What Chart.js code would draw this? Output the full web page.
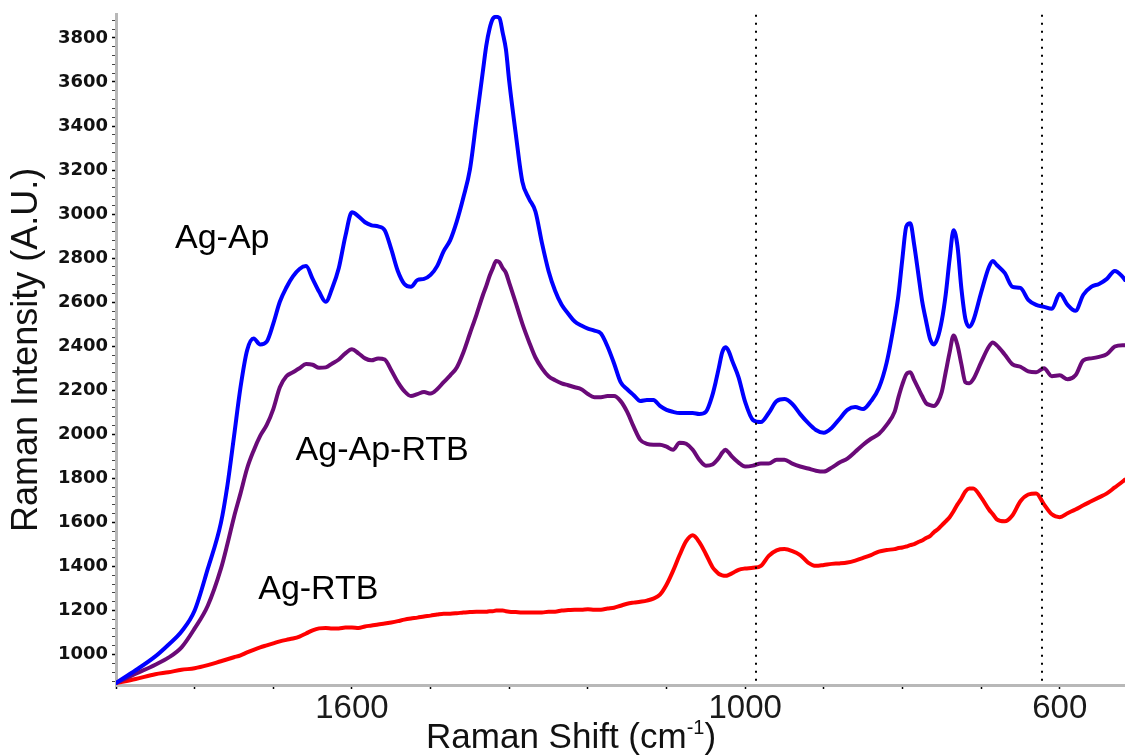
<!DOCTYPE html>
<html>
<head>
<meta charset="utf-8">
<script src="https://cdn.jsdelivr.net/npm/chart.js@4/dist/chart.umd.min.js"></script>
<style>
  html, body { margin: 0; padding: 0; background: #fff; }
  canvas { display: block; }
</style>
</head>
<body>
<canvas id="ramanChart" width="1125" height="756"></canvas>
<script>
// Raman shift (cm-1)
const ramanShift = [1960,1930,1900,1880,1860,1840,1820,1800,1790,1780,1770,1760,1750,1740,1730,1720,1710,1700,1690,1680,
  1670,1660,1650,1640,1630,1620,1610,1600,1590,1580,1570,1560,1550,1540,1530,1520,1510,1500,1490,1480,
  1470,1460,1450,1440,1430,1420,1410,1400,1395,1390,1385,1380,1375,1370,1365,1360,1350,1340,1330,1320,
  1310,1300,1290,1280,1270,1260,1250,1240,1230,1220,1210,1200,1190,1180,1170,1160,1150,1140,1130,1120,
  1110,1100,1090,1080,1070,1060,1050,1045,1040,1035,1030,1025,1020,1010,1000,990,980,970,960,950,
  940,930,920,910,900,890,880,870,860,850,840,830,820,810,805,800,795,790,785,780,
  775,770,765,760,755,750,745,740,735,730,725,720,715,710,700,690,685,680,670,660,
  650,640,630,620,610,600,590,580,570,560,550,540,530,520,517];

// Ag-Ap (blue)
const agAp = [871,929,992,1045,1105,1200,1389,1597,1768,1989,2214,2381,2435,2408,2421,2503,2602,2667,2717,2751,
  2764,2706,2647,2602,2665,2755,2900,3008,2990,2963,2949,2944,2927,2841,2742,2683,2670,2701,2706,2724,
  2764,2832,2882,2967,3075,3202,3427,3653,3765,3842,3887,3896,3891,3824,3747,3603,3364,3148,3071,3012,
  2868,2742,2652,2588,2548,2512,2494,2480,2471,2458,2399,2322,2237,2205,2178,2151,2156,2156,2129,2111,
  2102,2097,2097,2097,2092,2102,2178,2237,2304,2372,2395,2377,2336,2259,2147,2065,2056,2097,2151,2160,
  2138,2092,2052,2020,2007,2029,2070,2111,2124,2115,2151,2210,2327,2516,2634,2800,2945,2958,2859,2733,
  2606,2516,2435,2408,2440,2516,2634,2796,2927,2854,2661,2525,2489,2516,2643,2760,2787,2769,2733,2670,
  2665,2611,2588,2579,2570,2638,2588,2561,2634,2670,2683,2706,2742,2715,2701];

// Ag-Ap-RTB (purple)
const agApRtb = [871,913,954,986,1033,1119,1222,1389,1502,1624,1732,1845,1926,1993,2043,2115,2214,2264,2282,2300,
  2319,2316,2302,2304,2322,2340,2368,2386,2368,2345,2336,2345,2340,2291,2237,2196,2174,2183,2192,2185,
  2205,2237,2268,2304,2372,2458,2543,2634,2674,2719,2755,2787,2782,2755,2733,2688,2597,2503,2422,2349,
  2300,2264,2246,2232,2223,2214,2205,2183,2169,2169,2174,2174,2151,2102,2034,1975,1957,1953,1953,1944,
  1930,1962,1957,1930,1885,1858,1863,1876,1894,1917,1930,1917,1899,1872,1854,1858,1868,1868,1885,1885,
  1867,1854,1845,1835,1831,1849,1872,1890,1921,1953,1980,2002,2043,2102,2169,2228,2273,2282,2246,2210,
  2174,2142,2133,2129,2147,2192,2282,2372,2449,2404,2318,2237,2232,2250,2327,2399,2417,2404,2363,2318,
  2307,2286,2282,2300,2264,2268,2250,2268,2336,2345,2352,2364,2399,2405,2405];

// Ag-RTB (red)
const agRtb = [871,889,911,920,931,938,952,970,979,988,997,1010,1022,1033,1042,1051,1060,1067,1073,1082,
  1096,1110,1119,1121,1119,1119,1123,1123,1121,1128,1132,1137,1141,1146,1152,1159,1164,1168,1173,1177,
  1182,1186,1186,1188,1191,1193,1195,1195,1195,1197,1197,1200,1200,1200,1197,1195,1193,1191,1191,1191,
  1191,1195,1195,1200,1202,1204,1204,1206,1204,1204,1209,1213,1222,1231,1236,1240,1245,1254,1272,1317,
  1380,1452,1515,1542,1511,1457,1398,1380,1366,1360,1358,1362,1369,1385,1391,1394,1403,1448,1473,1479,
  1470,1452,1418,1403,1407,1412,1414,1418,1427,1439,1452,1468,1475,1479,1484,1486,1491,1497,1502,1511,
  1518,1529,1538,1556,1569,1587,1605,1624,1651,1682,1709,1741,1754,1754,1714,1659,1637,1614,1605,1633,
  1696,1727,1732,1682,1637,1624,1642,1659,1678,1696,1714,1732,1759,1786,1795];

// axis ticks
const shiftTicks = [1960, 1840, 1720, 1600, 1480, 1360, 1240, 1120, 1000, 900, 800, 700, 600];
const shiftLabels = [1600, 1000, 600];
const intensityLabels = [1000, 1200, 1400, 1600, 1800, 2000, 2200, 2400, 2600, 2800, 3000, 3200, 3400, 3600, 3800];
const markerShifts = [986, 622];

// names written next to the curves (data coordinates)
const seriesNotes = [
  { text: 'Ag-Ap', x: 1870, y: 2845 },
  { text: 'Ag-Ap-RTB', x: 1686, y: 1885 },
  { text: 'Ag-RTB', x: 1743, y: 1254 }
];

// the x axis of the original is not linear in cm-1:
// one division is 120 cm-1 above 1000 and 100 cm-1 below it
const LinearScale = Chart.LinearScale || Chart.registry.getScale('linear');

class ShiftScale extends LinearScale {
    divisions(v) {
        const pieces = this.options.pieces;
        let d = 0;
        for (let i = 0; i < pieces.length; i++) {
            const p = pieces[i];
            if (v >= p.to || i === pieces.length - 1) {
                d += (p.from - v) / p.step;
                break;
            }
            d += (p.from - p.to) / p.step;
        }
        return d;
    }
    getPixelForValue(value) {
        const total = this.divisions(this.min);
        return this.getPixelForDecimal(this.divisions(value) / total);
    }
    getValueForPixel(pixel) {
        const pieces = this.options.pieces;
        let d = this.getDecimalForPixel(pixel) * this.divisions(this.min);
        for (let i = 0; i < pieces.length; i++) {
            const p = pieces[i];
            const span = (p.from - p.to) / p.step;
            if (d <= span || i === pieces.length - 1) return p.from - d * p.step;
            d -= span;
        }
    }
}
ShiftScale.id = 'shift';
ShiftScale.defaults = LinearScale.defaults;
Chart.register(ShiftScale);

const toPoints = values => values.map((v, i) => ({ x: ramanShift[i], y: v }));

// dotted markers, curve names and the x axis title
const extras = {
    id: 'extras',
    afterDatasetsDraw(chart) {
        const { ctx, chartArea, scales: { x, y } } = chart;
        ctx.save();
        ctx.strokeStyle = '#000';
        ctx.lineWidth = 2;
        ctx.setLineDash([2, 6]);
        markerShifts.forEach(s => {
            const px = Math.round(x.getPixelForValue(s));
            ctx.beginPath();
            ctx.moveTo(px, chartArea.top);
            ctx.lineTo(px, chartArea.bottom);
            ctx.stroke();
        });
        ctx.setLineDash([]);

        ctx.fillStyle = '#000';
        ctx.font = '34px "Liberation Sans", Arial, sans-serif';
        ctx.textAlign = 'left';
        ctx.textBaseline = 'alphabetic';
        seriesNotes.forEach(n => {
            ctx.fillText(n.text, x.getPixelForValue(n.x), y.getPixelForValue(n.y));
        });
        ctx.restore();
    },
    afterDraw(chart) {
        const { ctx, scales: { x } } = chart;
        const bigFont = '35px "Liberation Sans", Arial, sans-serif';
        const smallFont = '20px "Liberation Sans", Arial, sans-serif';
        ctx.save();
        ctx.fillStyle = '#111';
        ctx.textBaseline = 'alphabetic';
        ctx.textAlign = 'left';
        ctx.font = bigFont;
        const w1 = ctx.measureText('Raman Shift (cm').width;
        const w3 = ctx.measureText(')').width;
        ctx.font = smallFont;
        const w2 = ctx.measureText('-1').width;
        const cx = x.left + x.width * 0.451;
        const base = x.bottom - 8;
        let left = cx - (w1 + w2 + w3) / 2;
        ctx.font = bigFont;
        ctx.fillText('Raman Shift (cm', left, base);
        ctx.font = smallFont;
        ctx.fillText('-1', left + w1, base - 14);
        ctx.font = bigFont;
        ctx.fillText(')', left + w1 + w2, base);
        ctx.restore();
    }
};

const ctx = document.getElementById('ramanChart').getContext('2d');
const ramanChart = new Chart(ctx, {
    type: 'line',
    data: {
        datasets: [
            { label: 'Ag-Ap', data: toPoints(agAp), borderColor: '#0000ff' },
            { label: 'Ag-Ap-RTB', data: toPoints(agApRtb), borderColor: '#6a0a78' },
            { label: 'Ag-RTB', data: toPoints(agRtb), borderColor: '#ff0000' }
        ]
    },
    options: {
        responsive: false,
        animation: false,
        devicePixelRatio: 1,
        layout: { padding: { top: 10, right: 0, bottom: 0, left: 0 } },
        elements: {
            point: { radius: 0 },
            line: { borderWidth: 4, cubicInterpolationMode: 'monotone', borderJoinStyle: 'round', borderCapStyle: 'round' }
        },
        plugins: {
            legend: { display: false },
            tooltip: { enabled: false }
        },
        scales: {
            x: {
                type: 'shift',
                min: 517,
                max: 1960,
                pieces: [
                    { from: 1960, to: 1000, step: 120 },
                    { from: 1000, to: 517, step: 100 }
                ],
                afterBuildTicks: axis => { axis.ticks = shiftTicks.map(v => ({ value: v })); },
                afterFit: axis => { axis.height = 71; },
                border: { display: true, color: '#b8b8b8', width: 3 },
                grid: { drawOnChartArea: false, drawTicks: true, tickLength: 4, tickColor: '#000', tickWidth: 1.5 },
                ticks: {
                    autoSkip: false,
                    maxRotation: 0,
                    padding: 0,
                    color: '#1a1a1a',
                    font: { family: '"Liberation Sans", Arial, sans-serif', size: 33 },
                    callback: value => shiftLabels.includes(value) ? String(value) : ''
                }
            },
            y: {
                min: 862,
                max: 3905,
                afterBuildTicks: axis => {
                    const ticks = [];
                    for (let v = 880; v <= 3880; v += 40) ticks.push({ value: v });
                    axis.ticks = ticks;
                },
                afterFit: axis => { axis.width = 116; },
                border: { display: true, color: '#b8b8b8', width: 3 },
                grid: {
                    drawOnChartArea: false,
                    tickLength: 4,
                    tickColor: c => intensityLabels.includes(c.tick.value) ? '#000' : '#444',
                    tickWidth: c => intensityLabels.includes(c.tick.value) ? 1.5 : 1
                },
                ticks: {
                    autoSkip: false,
                    padding: 4,
                    color: '#111',
                    font: { family: '"DejaVu Sans", sans-serif', size: 18, weight: 'bold' },
                    callback: value => intensityLabels.includes(value) ? String(value) : ''
                },
                title: {
                    display: true,
                    text: 'Raman Intensity (A.U.)',
                    color: '#111',
                    font: { family: '"Liberation Sans", Arial, sans-serif', size: 36 },
                    padding: { top: 5, bottom: 0 }
                }
            }
        }
    },
    plugins: [extras]
});
</script>
</body>
</html>
